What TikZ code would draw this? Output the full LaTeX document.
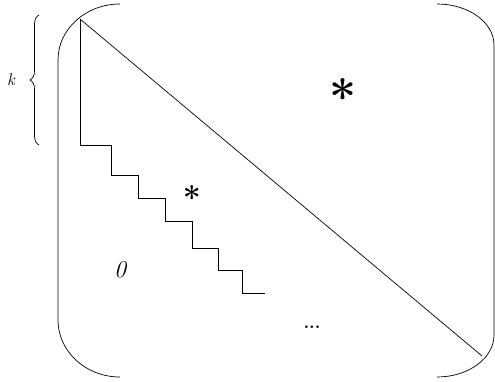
\documentclass[tikz,border=0pt]{standalone}
\usepackage{tikz}
\usetikzlibrary{calc}
\usetikzlibrary{decorations.pathreplacing}

\begin{document}
\begin{tikzpicture}[x=1pt, y=1pt, line width=0.7pt,
    bigstar/.style={font=\fontsize{48}{48}\selectfont\bfseries},
    smallstar/.style={font=\fontsize{32}{32}\selectfont\bfseries},
    zero/.style={font=\fontsize{24}{24}\selectfont\itshape}]
			\useasboundingbox (0,0) rectangle (495,381);
			% left bracket
			\draw (120,377) arc[start angle=90, end angle=180, x radius=62, y radius=56]
				-- (58,61) arc[start angle=180, end angle=270, x radius=62, y radius=57];
			% right bracket
			\draw (437,377) arc[start angle=90, end angle=0, x radius=57, y radius=41]
				-- (494,46) arc[start angle=0, end angle=-90, x radius=57, y radius=42];
			% diagonal and staircase
			\coordinate (tl) at (80,362);
			\coordinate (br) at (482,25);
			\draw (tl) -- (br);
			\draw (tl) -- (80,236) -- (111,236) -- (111,206) -- (138,206) -- (138,183)
				-- (165,183) -- (165,160) -- (192,160) -- (192,133) -- (218,133)
				-- (218,111) -- (242,111) -- (242,88) -- (265,88);
			% brace
			\draw[decorate, decoration={brace, amplitude=9pt}] (39,236) -- (39,366);
			\node[font=\fontsize{17}{17}\selectfont\itshape] (k) at (11,301) {k};
			\node[bigstar] (S1) at (343,285) {*};
			\node[smallstar] (S2) at (192,184) {*};
			\node[zero] (Z) at (120,111) {0};
			\node[font=\fontsize{18}{18}\selectfont\bfseries] (dots) at (312,54) {...};
		\end{tikzpicture}
\end{document}
